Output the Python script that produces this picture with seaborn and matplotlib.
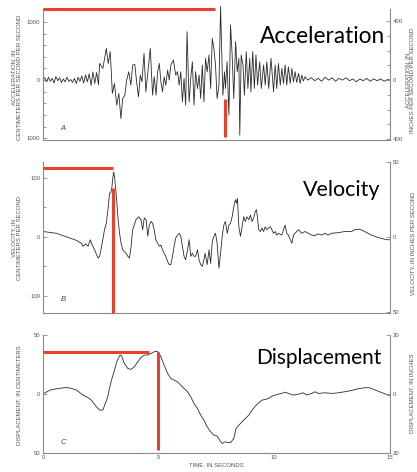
import matplotlib
matplotlib.use("Agg")
import matplotlib.pyplot as plt
import seaborn as sns

# ---- data (time in s) ----
acc_time = [0.00, 0.08, 0.16, 0.24, 0.32, 0.40, 0.48, 0.56, 0.64, 0.72,
            0.80, 0.88, 0.96, 1.04, 1.12, 1.20, 1.28, 1.36, 1.44, 1.52,
            1.60, 1.68, 1.76, 1.84, 1.92, 2.00, 2.08, 2.16, 2.24, 2.32,
            2.40, 2.45, 2.59, 2.74, 2.82, 2.91, 3.00, 3.09, 3.19, 3.28,
            3.37, 3.45, 3.54, 3.62, 3.71, 3.80, 3.88, 3.97, 4.05, 4.13,
            4.21, 4.28, 4.37, 4.45, 4.54, 4.64, 4.74, 4.81, 4.89, 4.96,
            5.03, 5.10, 5.17, 5.24, 5.31, 5.39, 5.46, 5.53, 5.64, 5.74,
            5.82, 5.89, 5.96, 6.03, 6.10, 6.17, 6.23, 6.32, 6.39, 6.46,
            6.53, 6.60, 6.68, 6.75, 6.82, 6.89, 6.96, 7.03, 7.10, 7.18,
            7.25, 7.32, 7.39, 7.46, 7.53, 7.61, 7.68, 7.72, 7.78, 7.85,
            7.89, 7.96, 8.04, 8.11, 8.18, 8.25, 8.33, 8.40, 8.47, 8.51,
            8.57, 8.65, 8.71, 8.79, 8.86, 8.94, 8.99, 9.07, 9.14, 9.21,
            9.28, 9.37, 9.44, 9.54, 9.61, 9.68, 9.76, 9.86, 9.97, 10.04,
            10.11, 10.18, 10.26, 10.33, 10.40, 10.47, 10.54, 10.61, 10.69, 10.76,
            10.83, 10.90, 10.97, 11.05, 11.12, 11.19, 11.26, 11.33, 11.45, 11.60,
            11.75, 11.90, 12.05, 12.20, 12.35, 12.50, 12.65, 12.80, 12.95, 13.10,
            13.25, 13.40, 13.55, 13.70, 13.85, 14.00, 14.15, 14.30, 14.45, 14.60,
            14.75, 14.90, 15.00]
acc_value = [0, 40, -30, 50, -20, 30, -50, 60, -10, 40,
             -40, 20, -30, 50, -20, 10, -40, 30, -60, 50,
             -20, 70, -50, 90, -30, 110, -90, 140, -60, 130,
             -80, 287, 201, 546, 287, 488, -230, -57, -431, -230,
             -661, -316, -259, 0, 144, -86, 259, 270, -29, -287,
             86, -29, 460, -201, 144, 546, -259, 60, -259, 144,
             287, -29, -201, 57, -86, 172, 0, 259, 345, 86,
             144, -86, 144, -374, 29, -431, 833, -374, 29, 316,
             -431, 144, -144, 86, -316, 259, -374, 374, 144, 431,
             -144, 718, 546, 259, -316, -86, 1264, 603, -259, 144,
             -144, 316, -603, 948, 431, -316, 661, 144, 374, -948,
             431, 259, -259, 488, -144, 374, -201, 488, -144, 431,
             -86, 316, -144, 259, -86, 316, -144, 374, -201, 259,
             -144, 287, -86, 201, -57, 259, -86, 230, -57, 201,
             -29, 144, -40, 115, -57, 86, -17, 57, 0, 40,
             -10, 30, -20, 50, 0, 40, -20, 30, 0, 40,
             -10, 20, -30, 20, -10, 30, -20, 20, -10, 20,
             -20, 10, 0]

vel_time = [0.00, 0.58, 1.02, 1.45, 1.66, 1.73, 1.85, 1.95, 2.05, 2.13,
            2.23, 2.38, 2.45, 2.56, 2.66, 2.74, 2.81, 2.88, 2.93, 2.97,
            3.02, 3.06, 3.10, 3.15, 3.20, 3.25, 3.31, 3.38, 3.45, 3.60,
            3.67, 3.74, 3.81, 3.88, 4.02, 4.14, 4.24, 4.31, 4.38, 4.46,
            4.53, 4.60, 4.67, 4.74, 4.81, 4.88, 4.96, 5.03, 5.10, 5.17,
            5.24, 5.31, 5.39, 5.46, 5.53, 5.60, 5.67, 5.74, 5.82, 5.89,
            5.96, 6.03, 6.10, 6.17, 6.25, 6.32, 6.39, 6.46, 6.53, 6.60,
            6.68, 6.75, 6.82, 6.89, 6.96, 7.01, 7.06, 7.10, 7.18, 7.25,
            7.32, 7.39, 7.46, 7.53, 7.61, 7.68, 7.75, 7.82, 7.89, 7.97,
            8.04, 8.11, 8.18, 8.25, 8.32, 8.37, 8.41, 8.47, 8.54, 8.61,
            8.68, 8.75, 8.82, 8.90, 8.97, 9.04, 9.11, 9.18, 9.23, 9.27,
            9.33, 9.40, 9.47, 9.54, 9.61, 9.68, 9.75, 9.83, 9.90, 9.97,
            10.04, 10.11, 10.18, 10.33, 10.40, 10.47, 10.54, 10.61, 10.76, 10.83,
            10.97, 11.05, 11.19, 11.33, 11.47, 11.62, 11.76, 11.90, 12.05, 12.19,
            12.33, 12.48, 12.76, 13.05, 13.34, 13.48, 13.69, 13.91, 14.20, 14.48,
            14.77, 14.91, 15.00]
vel_value = [9, 6, 0, -6, -11, -16, -12, -16, -5, -14,
             -22, -36, -33, -11, 12, 23, 46, 74, 75, 80,
             100, 110, 100, 80, 55, 30, 6, -11, -22, -28,
             -33, -36, -16, 12, 29, 34, 29, 12, 32, 29,
             1, 20, 26, 23, 12, -5, -11, -16, -14, -22,
             -28, -33, -42, -47, -47, -33, -16, -2, 3, 6,
             1, -16, -33, -39, -22, -5, -33, -28, -33, -33,
             -22, -39, -47, -50, -39, -28, -39, -47, -22, -45,
             -8, 1, 6, -11, -53, -28, 1, 20, 26, 6,
             20, 23, 34, 51, 63, 57, 65, 17, 1, 17,
             34, 26, 34, 29, 37, 26, 32, 43, 46, 34,
             12, 9, 15, 9, 17, 12, 15, 17, 12, 6,
             9, 3, 6, 3, 12, 20, 6, 3, -11, 3,
             9, 12, 6, 9, 6, 3, 2, 5, 3, 6,
             3, 6, 7, 9, 9, 12, 13, 9, 3, -1,
             -4, -5, -5]

disp_time = [0.00, 0.30, 0.66, 1.02, 1.23, 1.45, 1.73, 1.95, 2.09, 2.31,
             2.45, 2.59, 2.80, 2.95, 3.09, 3.20, 3.33, 3.40, 3.52, 3.67,
             3.81, 3.95, 4.10, 4.24, 4.38, 4.53, 4.67, 4.81, 4.91, 5.00,
             5.10, 5.24, 5.39, 5.53, 5.67, 5.82, 5.96, 6.10, 6.25, 6.39,
             6.53, 6.68, 6.82, 6.96, 7.10, 7.25, 7.39, 7.53, 7.64, 7.75,
             7.87, 7.97, 8.11, 8.25, 8.35, 8.47, 8.61, 8.75, 8.90, 9.04,
             9.18, 9.33, 9.47, 9.61, 9.75, 9.90, 10.04, 10.18, 10.33, 10.47,
             10.61, 10.83, 11.05, 11.26, 11.40, 11.62, 11.76, 11.90, 12.19, 12.48,
             12.76, 13.05, 13.34, 13.62, 13.91, 14.12, 14.34, 14.55, 14.74, 14.91,
             15.00]
disp_value = [0, 3.4, 4.8, 5.6, 4.8, 3.4, -0.8, -3, -5, -10.7,
              -13.6, -13.5, -2.3, 11, 20, 28, 33, 32.5, 26, 21.8,
              20.9, 23.2, 27.4, 31.1, 33.1, 33.1, 34.5, 35.9, 36.4, 35.3,
              31.6, 24.6, 17.5, 13.3, 11.9, 10.4, 7.6, 4.8, 2.0, -2.3,
              -7.9, -12.1, -17.8, -22, -27.7, -31.9, -34.7, -35.6, -39, -41.8,
              -40.4, -41, -41.2, -37.6, -29.1, -26.3, -23.4, -20.6, -17.8, -13.6,
              -10.2, -7.3, -5.1, -4.5, -3.7, -1.7, -0.8, 0, 0.6, 1.7,
              0.6, -0.8, 0, 1.1, -0.8, 0.6, 2, 0.6, 1.1, 0.6,
              1.1, 2, 3.1, 4.5, 5.4, 5.4, 3.7, 2, 0.6, -0.8,
              -1]

# red guide marks: (end time of horizontal, level, time of vertical, vertical top, vertical bottom)
acc_guide = [7.43, 1215, 7.86, -328, -983]
vel_guide = [3.01, 117, 3.05, 83, -129]
disp_guide = [4.60, 35.6, 4.98, 35.6, -47.5]

titles = ["Acceleration", "Velocity", "Displacement"]

sns.set_style("white")
plt.rcParams['font.family'] = ['Liberation Sans', 'DejaVu Sans']

GREY = "#8a8a8a"
TXT = "#555555"
RED = "#e8412c"

fig = plt.figure(figsize=(4.17, 4.72), dpi=100)
ax_a = fig.add_axes([0.103, 0.703, 0.832, 0.278])
ax_b = fig.add_axes([0.103, 0.337, 0.832, 0.320])
ax_c = fig.add_axes([0.103, 0.040, 0.832, 0.250])


def style(ax, ylim, yticks, ylabels, yminor, rlim, rticks, rlabels, rminor, letter):
    ax.set_xlim(0, 15)
    ax.set_ylim(*ylim)
    ax.set_yticks(yticks)
    ax.set_yticklabels(ylabels)
    if yminor:
        ax.set_yticks(yminor, minor=True)
    ax.set_xticks([0, 5, 10, 15])
    for s in ["top", "right"]:
        ax.spines[s].set_visible(False)
    for s in ["left", "bottom"]:
        ax.spines[s].set_color(GREY)
        ax.spines[s].set_linewidth(0.8)
    ax.tick_params(which="both", direction="in", colors=GREY, labelcolor=TXT,
                   labelsize=4.3, width=0.6, pad=2)
    ax.tick_params(which="major", length=3)
    ax.tick_params(which="minor", length=2)
    ax.set_xlabel("")
    ax.set_ylabel("")
    tw = ax.twinx()
    tw.set_ylim(*rlim)
    tw.set_yticks(rticks)
    tw.set_yticklabels(rlabels)
    if rminor:
        tw.set_yticks(rminor, minor=True)
    for s in ["top", "left", "bottom"]:
        tw.spines[s].set_visible(False)
    tw.spines["right"].set_color(GREY)
    tw.spines["right"].set_linewidth(0.8)
    tw.tick_params(which="both", direction="in", colors=GREY, labelcolor=TXT,
                   labelsize=4.3, width=0.6, pad=2)
    tw.tick_params(which="major", length=3)
    tw.tick_params(which="minor", length=2)
    ax.text(0.05, 0.09, letter, transform=ax.transAxes, fontsize=5.5,
            style="italic", color="#444444", va="center")
    return tw


def guides(ax, g):
    ax.plot([0, g[0]], [g[1], g[1]], color=RED, lw=2.2, clip_on=False,
            solid_capstyle="butt", zorder=5)
    ax.plot([g[2], g[2]], [g[3], g[4]], color=RED, lw=2.2, clip_on=False,
            solid_capstyle="butt", zorder=5)


# A acceleration
line_kw = dict(color="#2b2b2b", linewidth=0.6)
sns.lineplot(x=acc_time, y=acc_value, ax=ax_a, **line_kw)
for ln in ax_a.lines:
    ln.set_clip_on(False)
style(ax_a, (-1034, 1224), [-1000, 0, 1000], ["1000", "0", "1000"],
      list(range(-800, 1000, 200)),
      (-1034 / 2.54, 1224 / 2.54), [-400, 0, 400], ["400", "0", "400"],
      list(range(-300, 400, 100)), "A")
ax_a.tick_params(axis="x", labelbottom=False)
guides(ax_a, acc_guide)

# B velocity
sns.lineplot(x=vel_time, y=vel_value, ax=ax_b, **line_kw)
style(ax_b, (-129, 127), [-100, 0, 100], ["100", "0", "100"], [-50, 50],
      (-129 / 2.54, 127 / 2.54), [-50, 0, 50], ["50", "0", "50"], None, "B")
ax_b.tick_params(axis="x", labelbottom=False)
guides(ax_b, vel_guide)

# C displacement
sns.lineplot(x=disp_time, y=disp_value, ax=ax_c, **line_kw)
style(ax_c, (-50, 50), [-50, 0, 50], ["50", "0", "50"], None,
      (-20, 20), [-20, 0, 20], ["20", "0", "20"], None, "C")
ax_c.set_xticklabels(["0", "5", "10", "15"])
ax_c.tick_params(axis="x", pad=1.5)
ax_c.set_xlabel("TIME, IN SECONDS", fontsize=4.3, color=TXT, labelpad=1.5)
guides(ax_c, disp_guide)

# axis titles (rotated)
lab = dict(rotation=90, fontsize=4.3, color=TXT, ha="center", va="center",
           linespacing=1.2)
fig.text(0.040, 0.837, "ACCELERATION, IN\nCENTIMETERS PER SECOND PER SECOND", **lab)
fig.text(0.040, 0.496, "VELOCITY, IN\nCENTIMETERS PER SECOND", **lab)
fig.text(0.046, 0.163, "DISPLACEMENT, IN CENTIMETERS", **lab)
fig.text(0.983, 0.830, "ACCELERATION, IN\nINCHES PER SECOND PER SECOND",
         **dict(lab, linespacing=1.05))
fig.text(0.990, 0.485, "VELOCITY, IN INCHES PER SECOND", **lab)
fig.text(0.988, 0.167, "DISPLACEMENT, IN INCHES", **lab)

# big panel names
big = dict(family=["Lato", "DejaVu Sans"], color="black",
           ha="right", va="baseline")
fig.text(385 / 417, 1 - 43 / 472, titles[0], fontsize=16.3, **big)
fig.text(380 / 417, 1 - 196 / 472, titles[1], fontsize=15.5, **big)
fig.text(381 / 417, 1 - 364 / 472, titles[2], fontsize=15, **big)

fig.savefig("out.png", dpi=100, facecolor="white")
